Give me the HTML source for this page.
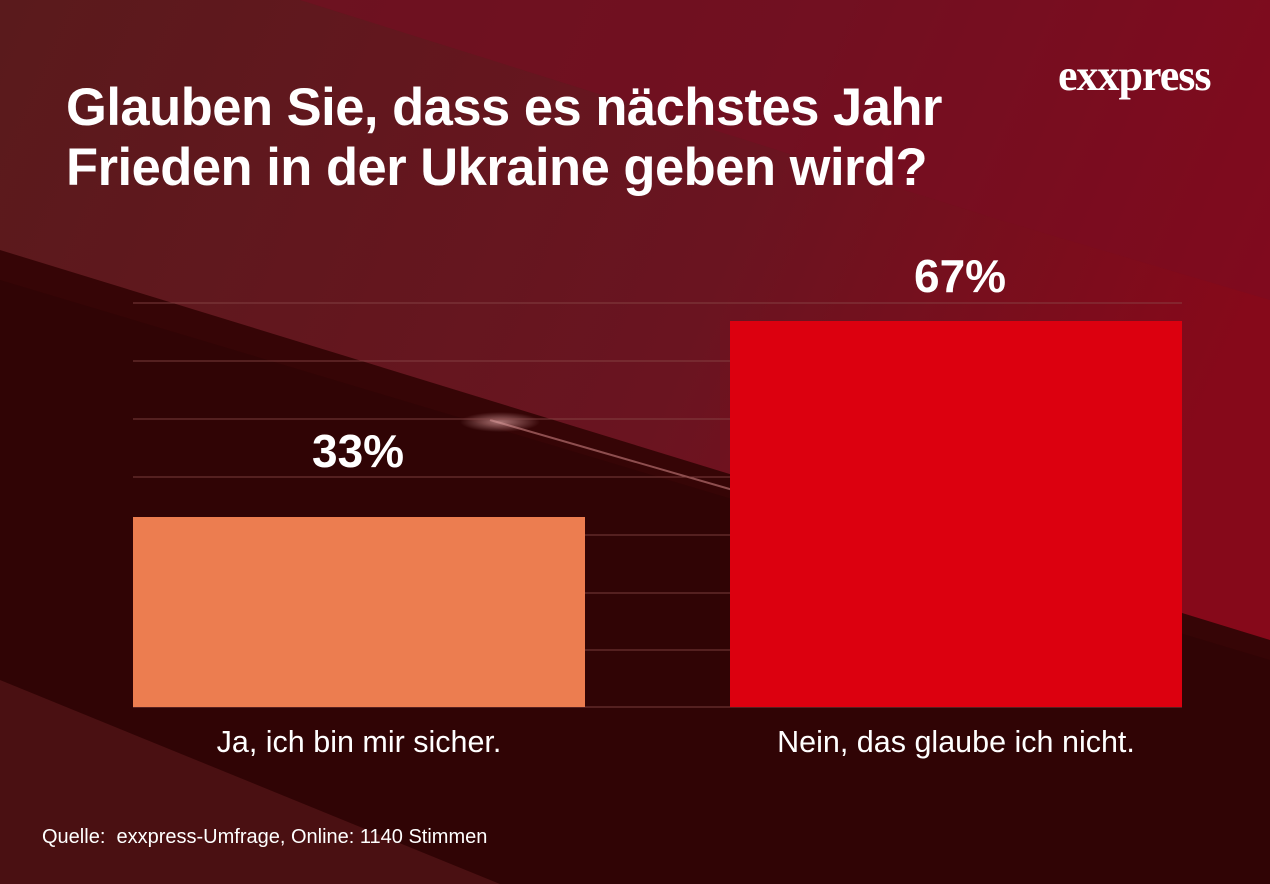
<!DOCTYPE html>
<html><head><meta charset="utf-8"><style>
body{margin:0;width:1270px;height:884px;overflow:hidden;font-family:"Liberation Sans",sans-serif}
.t{position:absolute;color:#fff;white-space:nowrap}
</style></head><body>
<svg width="1270" height="884" style="position:absolute;left:0;top:0">
<defs>
<linearGradient id="g" x1="0" y1="0" x2="1" y2="0.3">
<stop offset="0" stop-color="#5a1a1c"/><stop offset="0.6" stop-color="#6a1420"/><stop offset="1" stop-color="#86091a"/></linearGradient>
<radialGradient id="glow" cx="0.5" cy="0.5" r="0.5"><stop offset="0" stop-color="#d9a0a0" stop-opacity="0.7"/><stop offset="1" stop-color="#d9a0a0" stop-opacity="0"/></radialGradient>
</defs>
<rect width="1270" height="884" fill="url(#g)"/>
<polygon points="300,0 1270,0 1270,300 1000,220" fill="#7a0c22" opacity="0.5"/>
<polygon points="0,250 1270,640 1270,884 0,884" fill="#360506"/>
<polygon points="0,280 1270,660 1270,884 0,884" fill="#300405"/>
<polygon points="0,680 500,884 0,884" fill="#4a1012"/>
<line x1="490" y1="420" x2="740" y2="492" stroke="#c98080" stroke-width="2" opacity="0.6"/>
<ellipse cx="500" cy="422" rx="40" ry="10" fill="url(#glow)"/>
<g stroke="#8a4a4a" stroke-width="1" opacity="0.8">
<line x1="133" y1="303" x2="1182" y2="303"/><line x1="133" y1="361" x2="1182" y2="361"/>
<line x1="133" y1="419" x2="1182" y2="419"/><line x1="133" y1="477" x2="1182" y2="477"/>
<line x1="133" y1="535" x2="1182" y2="535"/><line x1="133" y1="593" x2="1182" y2="593"/>
<line x1="133" y1="650" x2="1182" y2="650"/><line x1="133" y1="707" x2="1182" y2="707"/>
</g>
<rect x="133" y="517" width="452" height="190" fill="#ec7d50"/>
<rect x="730" y="321" width="452" height="386" fill="#dc000f"/>
</svg>
<div class="t" style="left:66px;top:78px;font-size:52.5px;font-weight:bold;line-height:60px;letter-spacing:-0.5px">Glauben Sie, dass es nächstes Jahr<br>Frieden in der Ukraine geben wird?</div>
<div class="t" style="left:1058px;top:50px;font-size:44px;font-weight:bold;font-family:'Liberation Serif',serif;letter-spacing:-1px">exxpress</div>
<div class="t" style="left:312px;top:424px;font-size:46px;font-weight:bold">33%</div>
<div class="t" style="left:914px;top:249px;font-size:46px;font-weight:bold">67%</div>
<div class="t" style="left:133px;width:452px;text-align:center;top:725px;font-size:30.5px">Ja, ich bin mir sicher.</div>
<div class="t" style="left:730px;width:452px;text-align:center;top:725px;font-size:30.5px">Nein, das glaube ich nicht.</div>
<div class="t" style="left:42px;top:826px;font-size:20px">Quelle:&nbsp; exxpress-Umfrage, Online: 1140 Stimmen</div>
</body></html>
